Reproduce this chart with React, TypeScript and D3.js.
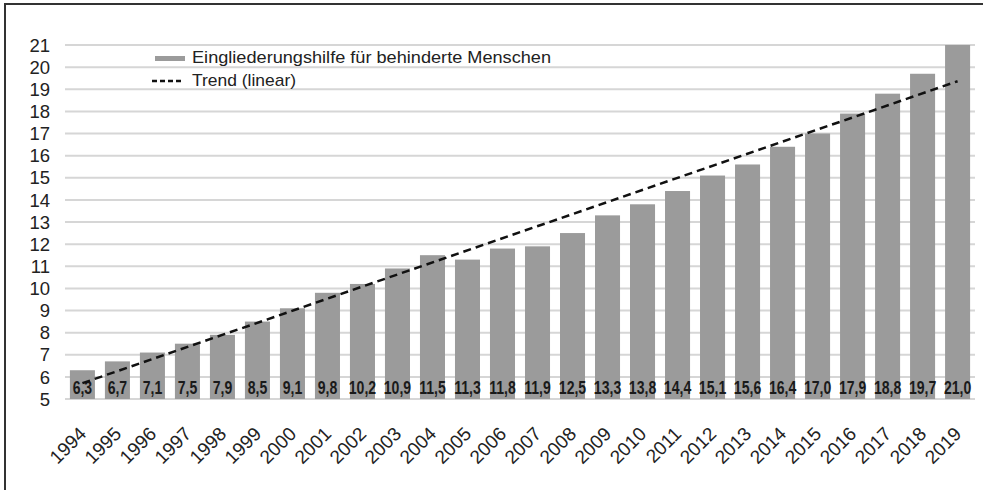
import * as d3 from 'd3';
import React, { useRef, useEffect } from 'react';

const years = ['1994', '1995', '1996', '1997', '1998', '1999', '2000', '2001', '2002', '2003', '2004', '2005', '2006',
    '2007', '2008', '2009', '2010', '2011', '2012', '2013', '2014', '2015', '2016', '2017', '2018', '2019'];
const values = [6.3, 6.7, 7.1, 7.5, 7.9, 8.5, 9.1, 9.8, 10.2, 10.9, 11.5, 11.3, 11.8,
    11.9, 12.5, 13.3, 13.8, 14.4, 15.1, 15.6, 16.4, 17.0, 17.9, 18.8, 19.7, 21.0];
const yTicks = [5, 6, 7, 8, 9, 10, 11, 12, 13, 14, 15, 16, 17, 18, 19, 20, 21];
const seriesName = 'Eingliederungshilfe für behinderte Menschen';
const trendName = 'Trend (linear)';

function BarChart({ width, height }: { width: number; height: number }) {
    const ref = useRef<SVGSVGElement>(null);

    useEffect(() => {
        document.body.style.overflow = 'hidden';
        const svg = d3.select(ref.current);
        svg.selectAll('*').remove();

        const x = d3.scaleBand().domain(years).range([65, 975]).paddingInner(0.285).paddingOuter(0.14);
        const y = d3.scaleLinear().domain([5, 21]).range([399, 45]);
        const font = 'Liberation Sans, Arial, sans-serif';
        const cx = (i: number) => x(years[i])! + x.bandwidth() / 2;

        // frame (left + top only)
        svg.append('path').attr('d', `M5,${height} V4 H${width}`)
            .attr('fill', 'none').attr('stroke', '#333').attr('stroke-width', 2);

        // grid
        svg.append('g').selectAll('line').data(yTicks).enter().append('line')
            .attr('x1', 65).attr('x2', 975)
            .attr('y1', d => y(d)).attr('y2', d => y(d))
            .attr('stroke', '#d6d6d6').attr('stroke-width', 2);

        // y labels
        svg.append('g').selectAll('text').data(yTicks).enter().append('text')
            .attr('x', 50).attr('y', d => y(d)).attr('dy', '0.36em')
            .attr('text-anchor', 'end').attr('font-family', font).attr('font-size', 18.5).attr('fill', '#222')
            .text(d => d);

        // bars
        svg.append('g').selectAll('rect').data(values).enter().append('rect')
            .attr('x', (d, i) => x(years[i])!)
            .attr('width', x.bandwidth())
            .attr('y', d => y(d))
            .attr('height', d => y(5) - y(d))
            .attr('fill', '#9b9b9b');

        // value labels (condensed bold)
        svg.append('g').selectAll('text').data(values).enter().append('text')
            .attr('transform', (d, i) => `translate(${cx(i)},394) scale(0.74,1)`)
            .attr('text-anchor', 'middle')
            .attr('font-family', font)
            .attr('font-weight', 'bold').attr('font-size', 19).attr('fill', '#1a1a1a')
            .text(d => d.toFixed(1).replace('.', ','));

        // trend (least squares)
        const n = values.length;
        const mx = d3.mean(values.map((v, i) => i))!;
        const my = d3.mean(values)!;
        const slope = d3.sum(values, (v, i) => (i - mx) * (v - my)) / d3.sum(values, (v, i) => (i - mx) ** 2);
        const icpt = my - slope * mx;
        svg.append('line')
            .attr('x1', cx(0)).attr('y1', y(icpt))
            .attr('x2', cx(n - 1)).attr('y2', y(icpt + slope * (n - 1)))
            .attr('stroke', '#111').attr('stroke-width', 2.5).attr('stroke-dasharray', '8,5');

        // x labels
        svg.append('g').selectAll('text').data(years).enter().append('text')
            .attr('transform', (d, i) => `translate(${cx(i) + 5},435) rotate(-45)`)
            .attr('text-anchor', 'end').attr('font-family', font).attr('font-size', 19).attr('fill', '#222')
            .text(d => d);

        // legend
        const lg = svg.append('g');
        lg.append('rect').attr('x', 155).attr('y', 56).attr('width', 30).attr('height', 5).attr('fill', '#9b9b9b');
        lg.append('text').attr('x', 192).attr('y', 63).attr('font-family', font).attr('font-size', 17)
            .attr('textLength', 359).attr('lengthAdjust', 'spacingAndGlyphs').attr('fill', '#222').text(seriesName);
        lg.append('line').attr('x1', 152).attr('x2', 183).attr('y1', 81).attr('y2', 81)
            .attr('stroke', '#111').attr('stroke-width', 2.5).attr('stroke-dasharray', '5,3');
        lg.append('text').attr('x', 192).attr('y', 86).attr('font-family', font).attr('font-size', 17)
            .attr('textLength', 104).attr('lengthAdjust', 'spacingAndGlyphs').attr('fill', '#222').text(trendName);
    }, [width, height]);

    return (
        <svg ref={ref} width={width} height={height}
            style={{ position: 'absolute', left: 0, top: 0, background: '#fff' }} />
    );
}

export default function App() {
    return <BarChart width={983} height={490} />;
}
